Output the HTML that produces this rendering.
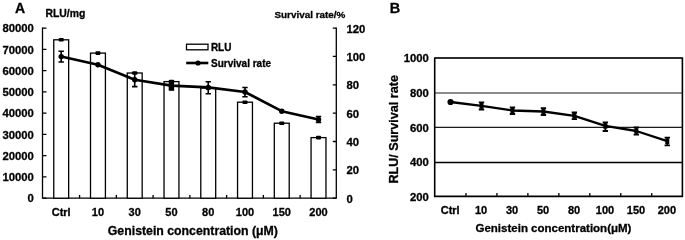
<!DOCTYPE html>
<html><head><meta charset="utf-8"><style>
html,body{margin:0;padding:0;background:#fff;width:685px;height:240px;overflow:hidden}
svg{display:block;filter:grayscale(1)}
text{font-family:"Liberation Sans",sans-serif;font-weight:bold;fill:#000;stroke:#000;stroke-width:0.3px;stroke-linejoin:round}
</style></head><body>
<svg width="685" height="240" viewBox="0 0 685 240">
<text x="15" y="12.6" font-family="Liberation Sans, sans-serif" font-weight="bold" font-size="14">A</text>
<text x="389.7" y="12.5" font-family="Liberation Sans, sans-serif" font-weight="bold" font-size="14.5">B</text>
<text x="45.5" y="16.8" font-family="Liberation Sans, sans-serif" font-weight="bold" font-size="10.4">RLU/mg</text>
<text x="274.5" y="18" font-family="Liberation Sans, sans-serif" font-weight="bold" font-size="9.9">Survival rate/%</text>
<path d="M42.5 27.6V198.2H336.3V27.6" fill="none" stroke="#000" stroke-width="1.3"/>
<path d="M42.5 198.20h4 M42.5 176.94h4 M42.5 155.67h4 M42.5 134.41h4 M42.5 113.15h4 M42.5 91.89h4 M42.5 70.62h4 M42.5 49.36h4 M42.5 28.10h4 M336.3 198.20h-3.5 M336.3 169.85h-3.5 M336.3 141.50h-3.5 M336.3 113.15h-3.5 M336.3 84.80h-3.5 M336.3 56.45h-3.5 M336.3 28.10h-3.5 M79.58 198.2v-3.3 M116.34 198.2v-3.3 M153.10 198.2v-3.3 M189.86 198.2v-3.3 M226.62 198.2v-3.3 M263.38 198.2v-3.3 M300.14 198.2v-3.3" stroke="#000" stroke-width="1.3" fill="none"/>
<text x="33.8" y="202.40" font-family="Liberation Sans, sans-serif" font-weight="bold" font-size="11.3" text-anchor="end">0</text>
<text x="33.8" y="181.14" font-family="Liberation Sans, sans-serif" font-weight="bold" font-size="11.3" text-anchor="end">10000</text>
<text x="33.8" y="159.87" font-family="Liberation Sans, sans-serif" font-weight="bold" font-size="11.3" text-anchor="end">20000</text>
<text x="33.8" y="138.61" font-family="Liberation Sans, sans-serif" font-weight="bold" font-size="11.3" text-anchor="end">30000</text>
<text x="33.8" y="117.35" font-family="Liberation Sans, sans-serif" font-weight="bold" font-size="11.3" text-anchor="end">40000</text>
<text x="33.8" y="96.09" font-family="Liberation Sans, sans-serif" font-weight="bold" font-size="11.3" text-anchor="end">50000</text>
<text x="33.8" y="74.83" font-family="Liberation Sans, sans-serif" font-weight="bold" font-size="11.3" text-anchor="end">60000</text>
<text x="33.8" y="53.56" font-family="Liberation Sans, sans-serif" font-weight="bold" font-size="11.3" text-anchor="end">70000</text>
<text x="33.8" y="32.30" font-family="Liberation Sans, sans-serif" font-weight="bold" font-size="11.3" text-anchor="end">80000</text>
<text x="346.5" y="202.60" font-family="Liberation Sans, sans-serif" font-weight="bold" font-size="11.3">0</text>
<text x="346.5" y="174.25" font-family="Liberation Sans, sans-serif" font-weight="bold" font-size="11.3">20</text>
<text x="346.5" y="145.90" font-family="Liberation Sans, sans-serif" font-weight="bold" font-size="11.3">40</text>
<text x="346.5" y="117.55" font-family="Liberation Sans, sans-serif" font-weight="bold" font-size="11.3">60</text>
<text x="346.5" y="89.20" font-family="Liberation Sans, sans-serif" font-weight="bold" font-size="11.3">80</text>
<text x="346.5" y="60.85" font-family="Liberation Sans, sans-serif" font-weight="bold" font-size="11.3">100</text>
<text x="346.5" y="32.50" font-family="Liberation Sans, sans-serif" font-weight="bold" font-size="11.3">120</text>
<text x="61.20" y="215.9" font-family="Liberation Sans, sans-serif" font-weight="bold" font-size="11" text-anchor="middle">Ctrl</text>
<text x="97.96" y="215.9" font-family="Liberation Sans, sans-serif" font-weight="bold" font-size="11" text-anchor="middle">10</text>
<text x="134.72" y="215.9" font-family="Liberation Sans, sans-serif" font-weight="bold" font-size="11" text-anchor="middle">30</text>
<text x="171.48" y="215.9" font-family="Liberation Sans, sans-serif" font-weight="bold" font-size="11" text-anchor="middle">50</text>
<text x="208.24" y="215.9" font-family="Liberation Sans, sans-serif" font-weight="bold" font-size="11" text-anchor="middle">80</text>
<text x="245.00" y="215.9" font-family="Liberation Sans, sans-serif" font-weight="bold" font-size="11" text-anchor="middle">100</text>
<text x="281.76" y="215.9" font-family="Liberation Sans, sans-serif" font-weight="bold" font-size="11" text-anchor="middle">150</text>
<text x="318.52" y="215.9" font-family="Liberation Sans, sans-serif" font-weight="bold" font-size="11" text-anchor="middle">200</text>
<text x="107.8" y="235.2" font-family="Liberation Sans, sans-serif" font-weight="bold" font-size="12.3">Genistein concentration (μM)</text>
<rect x="53.75" y="39.8" width="14.9" height="158.40" fill="#fff" stroke="#000" stroke-width="1.3"/>
<rect x="58.70" y="38.00" width="5" height="3.6" rx="0.8" fill="#000"/>
<rect x="90.51" y="53.1" width="14.9" height="145.10" fill="#fff" stroke="#000" stroke-width="1.3"/>
<rect x="95.46" y="51.30" width="5" height="3.6" rx="0.8" fill="#000"/>
<rect x="127.27" y="73" width="14.9" height="125.20" fill="#fff" stroke="#000" stroke-width="1.3"/>
<rect x="132.22" y="71.20" width="5" height="3.6" rx="0.8" fill="#000"/>
<rect x="164.03" y="81.6" width="14.9" height="116.60" fill="#fff" stroke="#000" stroke-width="1.3"/>
<rect x="168.98" y="79.80" width="5" height="3.6" rx="0.8" fill="#000"/>
<rect x="200.79" y="88" width="14.9" height="110.20" fill="#fff" stroke="#000" stroke-width="1.3"/>
<rect x="205.74" y="86.20" width="5" height="3.6" rx="0.8" fill="#000"/>
<rect x="237.55" y="102.2" width="14.9" height="96.00" fill="#fff" stroke="#000" stroke-width="1.3"/>
<rect x="242.50" y="100.40" width="5" height="3.6" rx="0.8" fill="#000"/>
<rect x="274.31" y="123.2" width="14.9" height="75.00" fill="#fff" stroke="#000" stroke-width="1.3"/>
<rect x="279.26" y="121.40" width="5" height="3.6" rx="0.8" fill="#000"/>
<rect x="311.07" y="137.6" width="14.9" height="60.60" fill="#fff" stroke="#000" stroke-width="1.3"/>
<rect x="316.02" y="135.80" width="5" height="3.6" rx="0.8" fill="#000"/>
<polyline points="61.20,56.6 97.96,64.8 134.72,79.7 171.48,85.6 208.24,87.4 245.00,92 281.76,111.2 318.52,119.6" fill="none" stroke="#000" stroke-width="2.6" stroke-linejoin="round"/>
<path d="M61.20 51.2V62M58.50 51.2h5.4M58.50 62h5.4" stroke="#000" stroke-width="1.6" fill="none"/>
<circle cx="61.20" cy="56.6" r="2.7" fill="#000"/>
<circle cx="97.96" cy="64.8" r="2.7" fill="#000"/>
<path d="M134.72 72.8V86.6M132.02 72.8h5.4M132.02 86.6h5.4" stroke="#000" stroke-width="1.6" fill="none"/>
<circle cx="134.72" cy="79.7" r="2.7" fill="#000"/>
<path d="M171.48 81V90M168.78 81h5.4M168.78 90h5.4" stroke="#000" stroke-width="1.6" fill="none"/>
<circle cx="171.48" cy="85.6" r="2.7" fill="#000"/>
<path d="M208.24 81.8V93.8M205.54 81.8h5.4M205.54 93.8h5.4" stroke="#000" stroke-width="1.6" fill="none"/>
<circle cx="208.24" cy="87.4" r="2.7" fill="#000"/>
<path d="M245.00 87.5V96.7M242.30 87.5h5.4M242.30 96.7h5.4" stroke="#000" stroke-width="1.6" fill="none"/>
<circle cx="245.00" cy="92" r="2.7" fill="#000"/>
<circle cx="281.76" cy="111.2" r="2.7" fill="#000"/>
<path d="M318.52 116.6V122.4M315.82 116.6h5.4M315.82 122.4h5.4" stroke="#000" stroke-width="1.6" fill="none"/>
<circle cx="318.52" cy="119.6" r="2.7" fill="#000"/>
<rect x="168.7" y="81" width="5.4" height="9.2" rx="1" fill="#000"/>
<rect x="186.5" y="44.2" width="21.5" height="5.6" fill="#fff" stroke="#000" stroke-width="1.3"/>
<text x="210.9" y="51.3" font-family="Liberation Sans, sans-serif" font-weight="bold" font-size="10">RLU</text>
<path d="M186.2 63H208.3" stroke="#000" stroke-width="2.6"/>
<circle cx="198" cy="63" r="2.6" fill="#000"/>
<text x="211" y="66.6" font-family="Liberation Sans, sans-serif" font-weight="bold" font-size="10">Survival rate</text>
<path d="M434.7 93H682.4" stroke="#8c8c8c" stroke-width="1.8"/>
<path d="M434.7 127.4H682.4" stroke="#1a1a1a" stroke-width="1.1"/>
<path d="M434.7 162.45H682.4" stroke="#000" stroke-width="1.4"/>
<path d="M434.7 58H682.4" stroke="#2e2e2e" stroke-width="1.8"/>
<path d="M434.7 57.4V196.4H682.4V57.4" fill="none" stroke="#000" stroke-width="1.6"/>
<path d="M465.96 196.4v-3.5 M496.93 196.4v-3.5 M527.89 196.4v-3.5 M558.85 196.4v-3.5 M589.81 196.4v-3.5 M620.77 196.4v-3.5 M651.74 196.4v-3.5" stroke="#000" stroke-width="1.3" fill="none"/>
<text x="428.8" y="201.30" font-family="Liberation Sans, sans-serif" font-weight="bold" font-size="11.3" text-anchor="end">200</text>
<text x="428.8" y="166.20" font-family="Liberation Sans, sans-serif" font-weight="bold" font-size="11.3" text-anchor="end">400</text>
<text x="428.8" y="131.60" font-family="Liberation Sans, sans-serif" font-weight="bold" font-size="11.3" text-anchor="end">600</text>
<text x="428.8" y="97.00" font-family="Liberation Sans, sans-serif" font-weight="bold" font-size="11.3" text-anchor="end">800</text>
<text x="428.8" y="62.40" font-family="Liberation Sans, sans-serif" font-weight="bold" font-size="11.3" text-anchor="end">1000</text>
<text x="450.18" y="214.0" font-family="Liberation Sans, sans-serif" font-weight="bold" font-size="11" text-anchor="middle">Ctrl</text>
<text x="481.14" y="214.0" font-family="Liberation Sans, sans-serif" font-weight="bold" font-size="11" text-anchor="middle">10</text>
<text x="512.11" y="214.0" font-family="Liberation Sans, sans-serif" font-weight="bold" font-size="11" text-anchor="middle">30</text>
<text x="543.07" y="214.0" font-family="Liberation Sans, sans-serif" font-weight="bold" font-size="11" text-anchor="middle">50</text>
<text x="574.03" y="214.0" font-family="Liberation Sans, sans-serif" font-weight="bold" font-size="11" text-anchor="middle">80</text>
<text x="604.99" y="214.0" font-family="Liberation Sans, sans-serif" font-weight="bold" font-size="11" text-anchor="middle">100</text>
<text x="635.96" y="214.0" font-family="Liberation Sans, sans-serif" font-weight="bold" font-size="11" text-anchor="middle">150</text>
<text x="666.92" y="214.0" font-family="Liberation Sans, sans-serif" font-weight="bold" font-size="11" text-anchor="middle">200</text>
<text x="475.5" y="231.7" font-family="Liberation Sans, sans-serif" font-weight="bold" font-size="11.5">Genistein concentration<tspan dx="0">(μM)</tspan></text>
<text transform="translate(397.6 183.6) rotate(-90)" font-family="Liberation Sans, sans-serif" font-weight="bold" font-size="12.6">RLU/ Survival rate</text>
<polyline points="450.53,102 481.49,105.8 512.46,110.5 543.42,111.5 574.38,115.8 605.34,125.9 636.31,131 667.27,141.2" fill="none" stroke="#000" stroke-width="2.3" stroke-linejoin="round"/>
<circle cx="450.53" cy="102" r="3.1" fill="#000"/>
<path d="M481.49 102.3V109.5M478.79 102.3h5.4M478.79 109.5h5.4" stroke="#000" stroke-width="1.8" fill="none"/>
<rect x="479.49" y="103.0" width="4" height="5.6" fill="#000"/>
<path d="M512.46 107.3V114M509.76 107.3h5.4M509.76 114h5.4" stroke="#000" stroke-width="1.8" fill="none"/>
<rect x="510.46" y="107.7" width="4" height="5.6" fill="#000"/>
<path d="M543.42 108.2V115M540.72 108.2h5.4M540.72 115h5.4" stroke="#000" stroke-width="1.8" fill="none"/>
<rect x="541.42" y="108.7" width="4" height="5.6" fill="#000"/>
<path d="M574.38 112.5V119.2M571.68 112.5h5.4M571.68 119.2h5.4" stroke="#000" stroke-width="1.8" fill="none"/>
<rect x="572.38" y="113.0" width="4" height="5.6" fill="#000"/>
<path d="M605.34 122.4V131M602.64 122.4h5.4M602.64 131h5.4" stroke="#000" stroke-width="1.8" fill="none"/>
<rect x="603.34" y="123.10000000000001" width="4" height="5.6" fill="#000"/>
<path d="M636.31 127.4V134.6M633.61 127.4h5.4M633.61 134.6h5.4" stroke="#000" stroke-width="1.8" fill="none"/>
<rect x="634.31" y="128.2" width="4" height="5.6" fill="#000"/>
<path d="M667.27 137.6V145.4M664.57 137.6h5.4M664.57 145.4h5.4" stroke="#000" stroke-width="1.8" fill="none"/>
<rect x="665.27" y="138.39999999999998" width="4" height="5.6" fill="#000"/>
</svg>
</body></html>
